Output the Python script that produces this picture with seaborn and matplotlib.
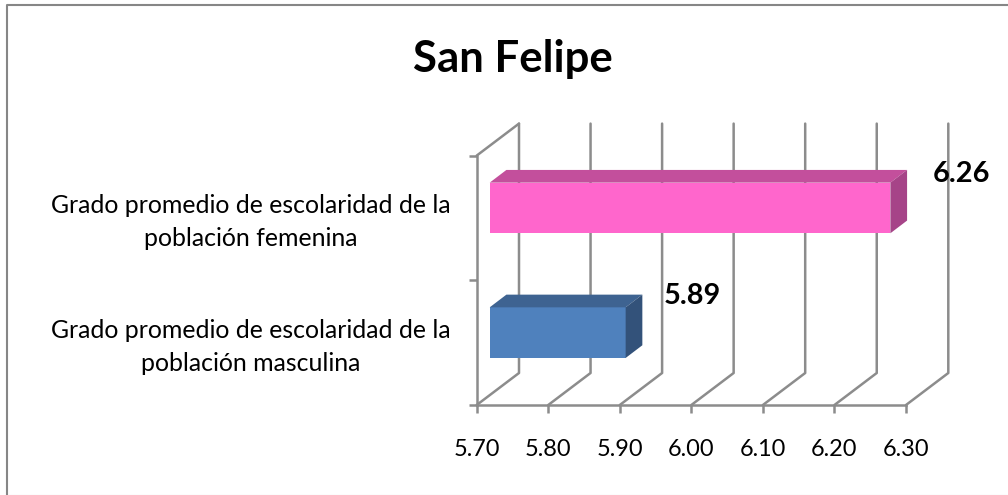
import numpy as np
import pandas as pd
import matplotlib
matplotlib.use("Agg")
import matplotlib.pyplot as plt
import seaborn as sns
from matplotlib.lines import Line2D
from matplotlib.patches import Polygon
from matplotlib.transforms import Affine2D, IdentityTransform

categorias = ["Grado promedio de escolaridad de la\npoblación femenina",
              "Grado promedio de escolaridad de la\npoblación masculina"]
valores = [6.26, 5.89]
x_ticks = [5.70, 5.80, 5.90, 6.00, 6.10, 6.20, 6.30]
titulo = "San Felipe"

colores = ["#FF66CC", "#4F81BD"]
colores_top = ["#C34F9C", "#3E6391"]
colores_side = ["#A64488", "#33527A"]
GRIS = "#8C8C8C"
LW = 1.8

sns.set_theme(style="white")
plt.rcParams['font.family'] = ['Lato', 'DejaVu Sans']

W, H = 1008, 495
fig = plt.figure(figsize=(W / 100, H / 100), dpi=100)
ax = fig.add_axes([476.7 / W, (H - 405) / H, 429.3 / W, 249.4 / H])

df = pd.DataFrame({"cat": categorias, "val": valores})
sns.barplot(data=df, x="val", y="cat", hue="cat", palette=colores, legend=False,
            width=0.406, saturation=1, ax=ax, zorder=3)

ax.set_xlim(x_ticks[0], x_ticks[-1])
ax.set_ylim(1.5, -0.5)
ax.set_xticks(x_ticks)
ax.set_xticklabels(["%.2f" % t for t in x_ticks])
ax.set_yticks([-0.5, 0.5, 1.5], minor=True)
ax.set_xlabel("")
ax.set_ylabel("")
ax.tick_params(axis="x", length=6, width=LW, color=GRIS, labelsize=16.9, labelcolor="black", pad=18.5, bottom=True)
ax.tick_params(axis="y", which="major", length=0, labelsize=17.9, labelcolor="black", pad=19)
ax.tick_params(axis="y", which="minor", length=6, width=LW, color=GRIS, left=True)
for lab in ax.get_yticklabels():
    lab.set_multialignment("center")
    lab.set_linespacing(1.5)
    lab.set_transform(lab.get_transform() + Affine2D().translate(0, 2.5))

for s in ["top", "right"]:
    ax.spines[s].set_visible(False)
for s in ["left", "bottom"]:
    ax.spines[s].set_color(GRIS)
    ax.spines[s].set_linewidth(LW)

# pared del fondo, en pixeles
fondo = (42.3, 32)
to_px = ax.transData.transform
y_bot, y_top = 1.5, -0.5
for t in x_ticks:
    x0, y0 = to_px((t, y_bot))
    x1, y1 = to_px((t, y_top))
    ax.add_line(Line2D([x0, x0 + fondo[0], x1 + fondo[0]], [y0, y0 + fondo[1], y1 + fondo[1]],
                       color=GRIS, lw=LW, transform=IdentityTransform(), clip_on=False, zorder=1))
x1, y1 = to_px((x_ticks[0], y_top))
ax.add_line(Line2D([x1, x1 + fondo[0]], [y1, y1 + fondo[1]], color=GRIS, lw=LW,
                   transform=IdentityTransform(), clip_on=False, zorder=1))

# barras 3D: cara frontal desplazada + tapa y lateral
frente = (13, 10)
prof = (16.7, 12.7)
shift = Affine2D().translate(*frente)
for i, (bar, v) in enumerate(zip(ax.patches, valores)):
    bar.set_x(x_ticks[0])
    bar.set_width(v - x_ticks[0])
    bar.set_transform(ax.transData + shift)
    bar.set_clip_on(False)
    bar.set_edgecolor("none")
    y_a = bar.get_y()
    y_b = y_a + bar.get_height()
    xl, yt = to_px((x_ticks[0], y_a)) + np.array(frente)
    xr, yb = to_px((v, y_b)) + np.array(frente)
    top = [(xl, yt), (xr, yt), (xr + prof[0], yt + prof[1]), (xl + prof[0], yt + prof[1])]
    side = [(xr, yt), (xr + prof[0], yt + prof[1]), (xr + prof[0], yb + prof[1]), (xr, yb)]
    ax.add_patch(Polygon(top, closed=True, fc=colores_top[i], ec="none",
                         transform=IdentityTransform(), clip_on=False, zorder=3))
    ax.add_patch(Polygon(side, closed=True, fc=colores_side[i], ec="none",
                         transform=IdentityTransform(), clip_on=False, zorder=3))

# etiquetas de valor
offs = [(84, 44), (80, 47)]
for i, v in enumerate(valores):
    ax.annotate("%.2f" % v, xy=(v, i), xytext=offs[i], textcoords="offset pixels",
                ha="center", va="center", fontsize=20.8, fontweight="bold", color="black",
                annotation_clip=False, zorder=5)

fig.text(513 / W, 1 - 59 / H, titulo, ha="center", va="center", fontsize=31.5, fontweight="bold", color="black")

# marco del grafico: solo izquierda y arriba, abajo casi invisible
fig.add_artist(Line2D([6.5 / W, 6.5 / W, 1], [0, 1 - 4.5 / H, 1 - 4.5 / H], color="#868686", lw=1.5))
fig.add_artist(Line2D([8 / W, 1], [0.5 / H, 0.5 / H], color="#F0F0F0", lw=1))

fig.savefig("out.png", dpi=100, facecolor="white")
